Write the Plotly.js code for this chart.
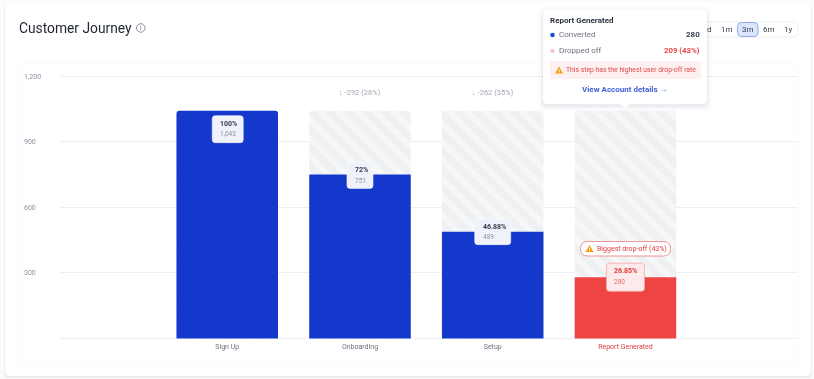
<!DOCTYPE html>
<html><head><meta charset="utf-8">
<script src="https://cdn.plot.ly/plotly-3.0.1.min.js"></script>
<style>html,body{margin:0;padding:0;background:#fbfbfb;overflow:hidden}#chart{filter:blur(.3px)}</style>
</head><body><div id="chart" style="width:814px;height:379px"></div>
<script>
const categories = ['Sign Up', 'Onboarding', 'Setup', 'Report Generated'];
const converted = [1043, 751, 489, 280];
const started = [1043, 1043, 1043, 1043];
const percents = ['100%', '72%', '46.88%', '26.85%'];
const countLabels = ['1,043', '751', '489', '280'];
const dropLabels = ['', '↓ -292 (28%)', '↓ -262 (35%)', ''];
const yTicks = [0, 300, 600, 900, 1200];
const yTickLabels = ['0', '300', '600', '900', '1,200'];
const rangeButtons = ['d', '1m', '3m', '6m', '1y'];

const W = 814, H = 379;
const BLUE = '#1338cb', RED = '#ef4444', FONT = 'Roboto, sans-serif';
const px = x => x / W, py = y => 1 - y / H;
const rr = (x0, y0, x1, y1, r) =>
  `M${x0 + r},${y0} L${x1 - r},${y0} Q${x1},${y0} ${x1},${y0 + r} L${x1},${y1 - r} Q${x1},${y1} ${x1 - r},${y1} L${x0 + r},${y1} Q${x0},${y1} ${x0},${y1 - r} L${x0},${y0 + r} Q${x0},${y0} ${x0 + r},${y0} Z`;

const shapes = [], annotations = [];
const P = (x, y) => `${px(x)},${py(y)}`;
const rrPaper = (x0, y0, x1, y1, r) =>
  `M${P(x0 + r, y0)} L${P(x1 - r, y0)} Q${P(x1, y0)} ${P(x1, y0 + r)} L${P(x1, y1 - r)} Q${P(x1, y1)} ${P(x1 - r, y1)} L${P(x0 + r, y1)} Q${P(x0, y1)} ${P(x0, y1 - r)} L${P(x0, y0 + r)} Q${P(x0, y0)} ${P(x0 + r, y0)} Z`;
function box(x0, y0, x1, y1, r, fill, line, layer, lw) {
  shapes.push({type: 'path', xref: 'paper', yref: 'paper', path: rrPaper(x0, y0, x1, y1, r),
    fillcolor: fill, line: {color: line || 'rgba(0,0,0,0)', width: line ? (lw || 1) : 0}, layer: layer || 'below'});
}
function text(x, y, t, size, color, anchor, bold) {
  const a = anchor || 'left';
  annotations.push({xref: 'paper', yref: 'paper', x: px(x), y: py(y), text: bold ? `<b>${t}</b>` : t,
    xshift: a === 'left' ? -1 : a === 'right' ? 1 : 0,
    showarrow: false, xanchor: a, yanchor: 'middle', borderpad: 0,
    font: {family: FONT, size, color}});
}
function warn(cx, cy) {
  shapes.push({type: 'path', xref: 'paper', yref: 'paper', layer: 'above',
    path: `M${P(cx, cy - 4)} L${P(cx + 4, cy + 3)} L${P(cx - 4, cy + 3)} Z`, fillcolor: '#f59e0b', line: {width: 0}});
  shapes.push({type: 'path', xref: 'paper', yref: 'paper', layer: 'above',
    path: `M${P(cx - .4, cy - 1.5)} L${P(cx + .4, cy - 1.5)} L${P(cx + .4, cy + 2)} L${P(cx - .4, cy + 2)} Z`, fillcolor: '#ffffff', line: {width: 0}});
}

// Cards
box(4, 4, 812, 378, 5, '#ececec');
box(5, 3, 811, 376, 5, '#ffffff');
box(18, 63, 798, 364, 5, '#ffffff', '#fafafb');

// Header
shapes.push({type: 'circle', xref: 'paper', yref: 'paper', x0: px(136.5), x1: px(145), y0: py(32.2), y1: py(23.7),
  line: {color: '#6b7280', width: .8}, fillcolor: 'rgba(0,0,0,0)', layer: 'above'});
text(140.8, 28, 'i', 6.5, '#6b7280', 'center');

// Range selector
box(680, 22, 798, 37, 4, '#ffffff', '#eceef1', 'below');
box(737.5, 22.5, 758, 36.5, 4, '#dbe6fd', '#8fabea', 'below');
const rangeX = [709.5, 727, 748, 769, 788];
rangeButtons.forEach((b, i) => text(rangeX[i], 29.5, b, 8, '#374151', 'center'));

// Value labels: anchored to the top of each bar through the axis scales
const boxGeom = [
  {l: -15, r: 16, t: 5, b: 32}, {l: -13, r: 13, t: -12, b: 14},
  {l: -18, r: 18, t: -13, b: 13}, {l: -19, r: 19, t: -14, b: 14}
];
converted.forEach((v, i) => {
  const g = boxGeom[i], last = i === 3;
  shapes.push({type: 'path', xref: 'x', yref: 'y', xsizemode: 'pixel', ysizemode: 'pixel',
    xanchor: i, yanchor: v, layer: 'above',
    path: rr(g.l, -g.b, g.r, -g.t, 3),
    fillcolor: last ? '#fdeaea' : '#eff1fb', line: {color: last ? '#f5a9a9' : 'rgba(255,255,255,.9)', width: last ? .8 : .6}});
  const base = {xref: 'x', yref: 'y', x: i, y: v, showarrow: false, xanchor: 'left', yanchor: 'middle', xshift: g.l + 6};
  annotations.push({...base, yshift: -(g.t + 8), text: `<b>${percents[i]}</b>`,
    font: {family: FONT, size: 7, color: last ? '#dc3a3a' : '#374151'}});
  annotations.push({...base, yshift: -(g.t + 18.5), text: countLabels[i],
    font: {family: FONT, size: 6.5, color: last ? '#f0696b' : '#8f95a3'}});
});
// Drop-off labels
dropLabels.forEach((t, i) => {
  if (t) annotations.push({xref: 'x', yref: 'y', x: i, y: started[i], yshift: 18, text: t, showarrow: false,
    font: {family: FONT, size: 7.5, color: '#a3a8b3'}});
});

// Biggest drop-off badge
box(580.5, 241.5, 670.5, 256, 7.2, '#ffffff', '#f08b8b', 'above', .9);
warn(589.5, 249);
text(596.5, 248.7, 'Biggest drop-off (43%)', 7, '#e23d3d', 'left');

// Tooltip
[[5, .012], [3.5, .018], [2, .025], [1, .035]].forEach(([s, a]) =>
  box(543 - s, 9 - s + 2, 707 + s, 104 + s + 2, 6, `rgba(40,50,80,${a})`, null, 'above'));
box(543, 9, 707, 104, 5, '#ffffff', null, 'above');
shapes.push({type: 'path', xref: 'paper', yref: 'paper', layer: 'above',
  path: `M${P(620, 104)} L${P(625, 108)} L${P(630, 104)} Z`, fillcolor: '#ffffff', line: {width: 0}});
text(550, 20.5, 'Report Generated', 8, '#2b3240', 'left', true);
const dot = (x, y, c) => shapes.push({type: 'circle', xref: 'paper', yref: 'paper', layer: 'above',
  x0: px(x - 2.3), x1: px(x + 2.3), y0: py(y + 2.3), y1: py(y - 2.3), fillcolor: c, line: {width: 0}});
dot(552.5, 35, '#1d4ed8');
text(559, 34.3, 'Converted', 8, '#6b7280', 'left');
text(700, 34.3, '280', 8, '#374151', 'right', true);
dot(552.5, 51, '#fbc9c9');
text(559, 50.7, 'Dropped off', 8, '#6b7280', 'left');
text(700, 50.7, '209 (43%)', 7.8, '#ef4444', 'right', true);
box(550, 61, 701, 79, 2, '#fef0f0', null, 'above');
warn(559, 70.5);
text(566, 70, 'This step has the highest user drop-off rate', 6.8, '#e0484c', 'left');
text(625, 89.5, 'View Account details →', 8, '#3f5fd8', 'center', true);

const data = [
  {type: 'bar', x: categories, y: started, width: .765, hoverinfo: 'skip', showlegend: false,
   marker: {color: '#eef0f2', line: {width: 0},
     pattern: {shape: '\\', bgcolor: '#eef0f1', fgcolor: '#f6f7f8', size: 13, solidity: .45, fillmode: 'replace'}}},
  {type: 'bar', x: categories, y: converted, width: .765, hoverinfo: 'skip', showlegend: false,
   marker: {color: categories.map((c, i) => i === 3 ? RED : BLUE), line: {width: 0}}}
];
const pad = 20 * 262 / 1200;   // pixels of axis kept below 0 and above 1,200 so the end tick labels are drawn
const layout = {
  width: W, height: H, margin: {l: 0, r: 0, t: 0, b: 0, pad: 0},
  paper_bgcolor: '#fbfbfb', plot_bgcolor: 'rgba(0,0,0,0)',
  barmode: 'overlay', barcornerradius: 3, showlegend: false, hovermode: false,
  font: {family: FONT},
  title: {text: 'Customer Journey', x: px(19), xanchor: 'left', xref: 'paper', y: py(28), yanchor: 'middle', yref: 'paper',
    font: {family: FONT, size: 13.8, color: '#1f2430'}, pad: {t: 0, b: 0, l: 0, r: 0}},
  xaxis: {domain: [px(60), px(798)], range: [-1.26, 4.3], type: 'category', categoryorder: 'array', categoryarray: categories,
    tickmode: 'array', tickvals: categories,
    ticktext: categories.map((c, i) => i === 3 ? `<span style="color:#e23d3d">${c}</span>` : c),
    showgrid: false, zeroline: false, showline: false, ticks: '', ticklen: 0, ticklabelstandoff: -2,
    tickfont: {family: FONT, size: 7, color: '#6b7280'}, automargin: false},
  yaxis: {domain: [py(338.4 + pad), py(76.4 - pad)], range: [-20, 1220], anchor: 'free', position: px(20),
    tickmode: 'array', tickvals: yTicks, ticktext: yTickLabels, ticklabelposition: 'inside',
    showgrid: true, gridcolor: '#eceef1', gridwidth: 1, zeroline: true, zerolinecolor: '#eceef1', zerolinewidth: 1,
    showline: false, ticks: '', tickfont: {family: FONT, size: 7, color: '#8793a5'}, automargin: false},
  shapes, annotations
};
Plotly.newPlot('chart', data, layout, {displayModeBar: false, staticPlot: true});
</script></body></html>
